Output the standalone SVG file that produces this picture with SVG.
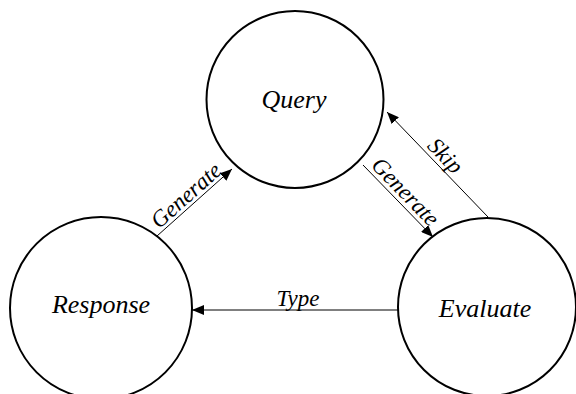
<svg xmlns="http://www.w3.org/2000/svg" width="576" height="394" viewBox="0 0 576 394">
  <style>
    .node { fill: #ffffff; stroke: #000000; stroke-width: 2; }
    .edge { stroke: #000000; stroke-width: 1; fill: none; marker-end: url(#arrow); }
    text { font-family: "Liberation Serif", Times, "Nimbus Roman", "Noto Serif", "DejaVu Serif", serif; font-style: italic; fill: #000000; text-anchor: middle; }
    .nlabel { font-size: 26px; }
    .elabel { font-size: 23px; }
  </style>
  <defs>
    <marker id="arrow" viewBox="0 0 12 10" refX="12" refY="5" markerWidth="12" markerHeight="10" markerUnits="userSpaceOnUse" orient="auto">
      <path d="M0,0 L12,5 L0,10 Z" fill="#000000"/>
    </marker>
  </defs>
  <rect width="576" height="394" fill="#ffffff"/>
  <g id="query">
    <circle class="node" cx="295" cy="99.5" r="88.5"/>
    <text class="nlabel" x="294" y="108">Query</text>
  </g>
  <g id="response">
    <circle class="node" cx="101" cy="308" r="91"/>
    <text class="nlabel" x="101" y="313">Response</text>
  </g>
  <g id="evaluate">
    <circle class="node" cx="487" cy="307" r="89"/>
    <text class="nlabel" x="485" y="317">Evaluate</text>
  </g>
  <g id="connectors">
    <line class="edge" x1="157" y1="236" x2="232" y2="169"/>
    <line class="edge" x1="363" y1="165" x2="433" y2="237"/>
    <line class="edge" x1="488" y1="217" x2="387" y2="112"/>
    <line class="edge" x1="398" y1="310" x2="192" y2="310"/>
    <text class="elabel" transform="translate(191,201) rotate(-41.6)">Generate</text>
    <text class="elabel" transform="translate(400,197) rotate(45.8)">Generate</text>
    <text class="elabel" transform="translate(440,161) rotate(46)">Skip</text>
    <text class="elabel" x="298" y="306">Type</text>
  </g>
</svg>
